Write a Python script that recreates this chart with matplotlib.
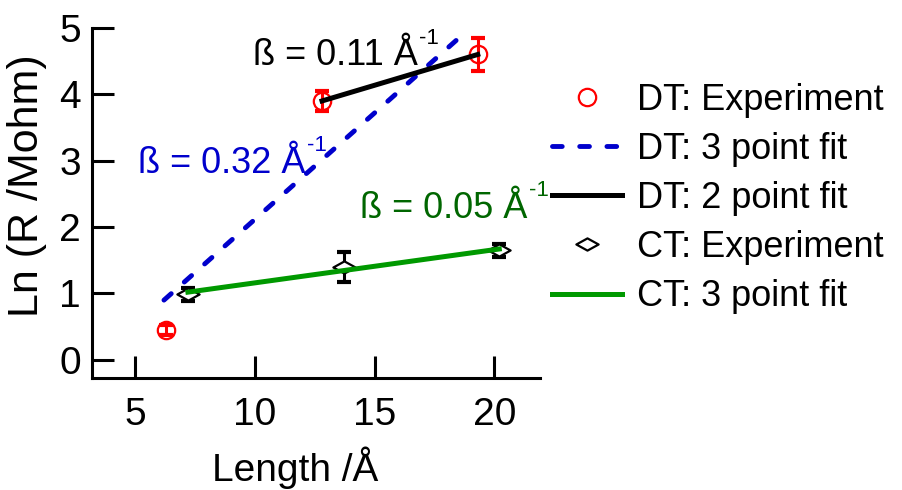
import numpy as np
import matplotlib
matplotlib.use("Agg")
import matplotlib.pyplot as plt
from matplotlib.path import Path

plt.rcParams['font.family'] = ['Liberation Sans', 'DejaVu Sans']

# DT data
dt_len = [6.3, 12.8, 19.3]
dt_ln = [0.45, 3.9, 4.6]
dt_err = [0.07, 0.15, 0.25]
dt_fit3_x = [6.2, 18.8]
dt_fit3_y = [0.9, 4.94]
dt_fit2_x = [12.8, 19.3]
dt_fit2_y = [3.9, 4.6]

# CT data
ct_len = [7.2, 13.7, 20.2]
ct_ln = [0.99, 1.4, 1.65]
ct_err = [0.1, 0.22, 0.1]
ct_fit_x = [7.2, 20.2]
ct_fit_y = [1.02, 1.67]

# slope labels
beta_txt = ['ß = 0.11 Å', 'ß = 0.32 Å', 'ß = 0.05 Å']
beta_x = [9.9, 5.1, 14.4]
beta_y = [4.44, 2.82, 2.14]
beta_col = ['black', '#0000cc', '#006600']

diamond = Path([(-1, 0), (0, 0.55), (1, 0), (0, -0.55), (-1, 0)],
               [Path.MOVETO, Path.LINETO, Path.LINETO, Path.LINETO, Path.CLOSEPOLY])

fig = plt.figure(figsize=(9.03, 4.9), dpi=100)
ax = fig.add_axes([0.102, 0.229, 0.496, 0.714])

ax.errorbar(dt_len, dt_ln, yerr=dt_err, fmt='none', ecolor='red', elinewidth=2.2,
            capsize=4.8, capthick=3, zorder=2)
ax.plot(dt_len, dt_ln, 'o', mfc='none', mec='red', ms=12.5, mew=1.6, zorder=3,
        label='DT: Experiment')
ax.plot(dt_fit3_x, dt_fit3_y, color='#0000cc', lw=3.5, dashes=(2.0, 3.6),
        dash_capstyle='round', label='DT: 3 point fit', zorder=4)
ax.plot(dt_fit2_x, dt_fit2_y, color='black', lw=3.6, label='DT: 2 point fit', zorder=4)
ax.errorbar(ct_len, ct_ln, yerr=ct_err, fmt='none', ecolor='black', elinewidth=2.2,
            capsize=4.8, capthick=3, zorder=2)
ax.plot(ct_len, ct_ln, ls='none', marker=diamond, mfc='white', mec='black', ms=16,
        mew=1.6, zorder=3, label='CT: Experiment')
ax.plot(ct_fit_x, ct_fit_y, color='#009900', lw=3.6, label='CT: 3 point fit', zorder=4)

for txt, bx, by, c in zip(beta_txt, beta_x, beta_y, beta_col):
    t = ax.text(bx, by, txt, color=c, fontsize=26)
    ax.annotate('-1', xy=(1, 1.0), xycoords=t, xytext=(1, 0), textcoords='offset points',
                color=c, fontsize=16, ha='left', va='center')

ax.set_xlim(3.2, 21.9)
ax.set_ylim(-0.27, 5)
ax.set_xticks([5, 10, 15, 20])
ax.set_yticks([0, 1, 2, 3, 4, 5])
for s in ['top', 'right']:
    ax.spines[s].set_visible(False)
ax.spines['left'].set_bounds(-0.27, 5)
for s in ['left', 'bottom']:
    ax.spines[s].set_linewidth(2.2)
ax.tick_params(direction='in', length=16, width=2.2, labelsize=28)
ax.tick_params(axis='x', pad=14)
ax.tick_params(axis='y', pad=8)
ax.set_xlabel('Length /Å', fontsize=28)
ax.xaxis.set_label_coords(0.453, -0.195)
ax.set_ylabel('Ln (R /Mohm)', fontsize=31)
ax.yaxis.set_label_coords(-0.1, 0.55)

fig.legend(*ax.get_legend_handles_labels(), loc='upper left',
           bbox_to_anchor=(0.611, 0.831), frameon=False, fontsize=26,
           handlelength=1.94, handletextpad=0.42, labelspacing=0.39,
           borderpad=0, borderaxespad=0)

fig.savefig('out.png', dpi=100)
